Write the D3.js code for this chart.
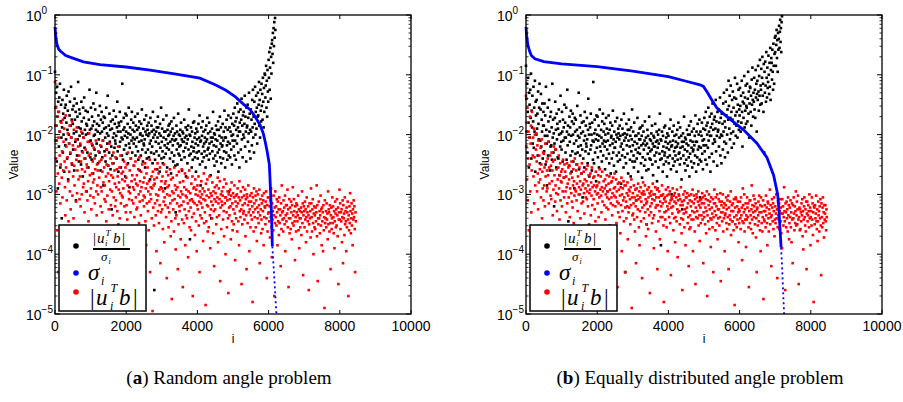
<!DOCTYPE html>
<html>
<head>
<meta charset="utf-8">
<script src="https://cdn.jsdelivr.net/npm/d3@7"></script>
<style>
body { margin: 0; background: #fff; }
</style>
</head>
<body>
<svg id="chart" width="903" height="402"></svg>
<script>
// tick labels / captions
const xTicks = [0, 2000, 4000, 6000, 8000, 10000];
const yDecades = [0, -1, -2, -3, -4, -5];
const captionTags = ["a", "b"];
const captionTexts = [" Random angle problem", " Equally distributed angle problem"];

const step = 10;

// (a) sigma_i curve [i, value]
const sigmaA = [[0,0.63],[20,0.45],[50,0.33],[100,0.27],[150,0.25],[300,0.21],[500,0.19],[800,0.165],[1260,0.148],[2000,0.135],[2670,0.12],[3400,0.103],[4070,0.088],[4500,0.068],[4800,0.055],[5060,0.043],[5300,0.032],[5480,0.026],[5620,0.02],[5760,0.0145],[5850,0.0105],[5900,0.0078],[5960,0.0052],[6020,0.0032],[6040,0.0018],[6070,0.0007],[6090,0.0003],[6105,0.000135],[6150,0.00005],[6190,0.00002],[6220,0.00001]];

// (b) sigma_i curve
const sigmaB = [[0,0.63],[20,0.45],[50,0.32],[100,0.25],[150,0.21],[250,0.185],[500,0.166],[1000,0.152],[2000,0.137],[3000,0.115],[4000,0.093],[4500,0.078],[4890,0.068],[4985,0.064],[5100,0.05],[5220,0.038],[5360,0.028],[5640,0.02],[6110,0.012],[6485,0.0072],[6770,0.0041],[6955,0.0021],[7070,0.001],[7110,0.0005],[7130,0.0003],[7140,0.00024],[7165,0.00013],[7190,0.000068],[7235,0.000016],[7250,0.00001]];

// (a) log10 |u_i^T b| / sigma_i, i = 0..6190
const blackALog = [
-0.95,-1.55,-2.10,-1.30,-1.85,-2.45,-1.20,-1.70,-2.90,-1.45,
-1.62,-2.20,-1.38,-1.95,-1.15,-2.55,-1.78,-1.50,-2.05,-3.40,
-1.88,-1.42,-2.30,-1.65,-2.00,-1.25,-2.62,-1.72,-1.55,-2.18,
-1.50,-2.08,-1.80,-1.35,-2.40,-1.92,-1.60,-2.75,-1.28,-2.00,
-2.15,-1.68,-1.45,-2.32,-1.85,-1.20,-2.05,-1.75,-2.50,-1.58,
-1.82,-2.25,-1.52,-1.98,-2.60,-1.40,-1.75,-2.12,-1.62,-3.10,
-1.95,-1.48,-2.35,-1.70,-2.08,-1.12,-1.88,-2.45,-1.58,-2.02,
-1.65,-2.18,-1.90,-2.50,-1.45,-1.78,-2.28,-1.98,-2.70,-1.55,
-2.05,-1.72,-1.38,-2.22,-1.92,-2.40,-1.60,-2.00,-1.82,-2.95,
-1.85,-2.30,-1.62,-1.98,-2.55,-1.75,-2.12,-1.25,-1.92,-2.38,
-2.10,-1.55,-1.90,-2.42,-1.70,-2.18,-1.85,-2.65,-1.48,-2.02,
-1.78,-2.25,-2.00,-1.58,-2.35,-1.92,-1.30,-2.15,-1.82,-4.20,
-1.95,-2.48,-1.68,-2.08,-1.85,-2.30,-1.52,-1.98,-2.60,-1.75,
-2.20,-1.62,-1.95,-2.38,-1.80,-2.10,-2.85,-1.70,-1.90,-2.28,
-1.72,-2.05,-2.45,-1.88,-1.55,-2.25,-1.98,-2.15,-1.35,-2.52,
-2.02,-1.85,-2.30,-1.65,-2.12,-1.92,-2.58,-1.78,-2.20,-3.25,
-1.90,-2.35,-1.75,-2.05,-2.48,-1.60,-1.98,-2.22,-1.82,-2.10,
-2.15,-1.70,-2.02,-2.40,-1.88,-1.45,-2.28,-1.95,-2.62,-1.80,
-1.85,-2.20,-1.62,-2.12,-1.95,-2.55,-1.78,-2.05,-2.35,-1.15,
-2.08,-2.42,-1.92,-1.72,-2.25,-1.88,-2.02,-2.70,-1.65,-2.18,
-1.95,-1.68,-2.32,-2.05,-1.82,-2.48,-1.98,-1.55,-2.15,-2.88,
-2.22,-1.88,-2.00,-2.40,-1.75,-2.10,-1.62,-2.30,-1.92,-2.05,
-1.80,-2.15,-2.52,-1.95,-2.08,-1.70,-2.35,-1.85,-2.20,-3.55,
-2.05,-1.92,-1.65,-2.28,-2.42,-1.88,-2.12,-1.78,-2.60,-2.00,
-1.98,-2.35,-1.82,-2.10,-1.58,-2.25,-2.02,-2.45,-1.90,-2.15,
-2.18,-1.75,-2.08,-2.55,-1.95,-2.30,-1.68,-2.00,-2.40,-1.85,
-1.92,-2.25,-2.02,-1.80,-2.38,-1.98,-2.15,-2.75,-1.72,-2.10,
-2.30,-1.85,-1.95,-2.20,-2.48,-1.62,-2.05,-1.92,-2.32,-4.60,
-2.00,-2.42,-1.78,-2.12,-1.95,-2.28,-1.88,-2.58,-2.05,-1.70,
-1.88,-2.15,-2.35,-1.98,-2.62,-1.82,-2.22,-2.02,-1.55,-2.40,
-2.12,-1.90,-2.28,-2.48,-1.75,-2.05,-2.38,-1.95,-2.18,-2.90,
-1.95,-2.32,-2.08,-1.68,-2.22,-2.55,-1.92,-2.15,-2.02,-1.85,
-2.25,-2.00,-1.82,-2.40,-2.12,-1.95,-2.65,-1.78,-2.30,-2.08,
-1.90,-2.18,-2.45,-2.02,-1.72,-2.35,-2.10,-1.98,-2.52,-3.30,
-2.08,-1.85,-2.25,-1.95,-2.50,-2.15,-1.65,-2.32,-2.00,-2.20,
-2.35,-2.02,-1.92,-2.18,-1.80,-2.42,-2.08,-2.60,-1.95,-2.12,
-1.98,-2.28,-2.12,-1.75,-2.38,-2.05,-2.22,-1.88,-2.70,-2.02,
-2.15,-1.92,-2.48,-2.08,-1.85,-2.25,-1.58,-2.35,-2.00,-3.75,
-2.02,-2.32,-1.88,-2.20,-2.55,-1.95,-2.12,-2.42,-1.80,-2.28,
-2.22,-1.78,-2.05,-2.38,-1.98,-2.15,-2.62,-1.90,-2.30,-2.08,
-1.95,-2.40,-2.18,-1.82,-2.28,-2.05,-1.68,-2.50,-2.12,-2.85,
-2.10,-1.88,-2.32,-2.02,-2.45,-1.78,-2.20,-1.95,-2.38,-2.15,
-2.28,-2.05,-1.92,-2.55,-2.12,-1.85,-2.35,-2.08,-1.72,-2.25,
-1.98,-2.22,-2.42,-1.80,-2.15,-2.32,-1.95,-2.68,-2.05,-3.40,
-2.12,-1.90,-2.28,-2.05,-1.62,-2.40,-2.18,-1.98,-2.52,-2.00,
-2.35,-2.08,-1.85,-2.20,-2.45,-1.92,-2.10,-2.30,-1.78,-2.62,
-1.92,-2.25,-2.02,-1.70,-2.38,-2.15,-1.88,-2.48,-2.05,-2.20,
-2.18,-1.82,-2.40,-2.10,-1.95,-2.28,-1.60,-2.05,-2.55,-1.88,
-2.05,-2.30,-1.75,-2.18,-2.42,-1.92,-2.12,-1.68,-2.35,-2.95,
-1.88,-2.15,-2.38,-1.95,-1.72,-2.25,-2.02,-2.50,-1.82,-2.10,
-2.00,-1.65,-2.20,-1.85,-2.35,-1.55,-2.10,-1.78,-2.42,-1.92,
-1.72,-2.15,-1.48,-2.02,-1.88,-2.30,-1.62,-1.95,-2.55,-1.80,
-1.95,-1.58,-2.25,-1.75,-1.40,-2.08,-1.85,-2.38,-1.68,-2.00,
-1.62,-2.05,-1.82,-1.35,-2.20,-1.70,-1.95,-2.45,-1.55,-1.88,
-1.85,-1.50,-2.12,-1.72,-1.98,-1.30,-2.28,-1.65,-1.92,-2.40,
-1.58,-1.95,-1.75,-2.18,-1.42,-1.88,-1.25,-2.05,-1.70,-2.30,
-1.45,-1.82,-1.20,-2.00,-1.62,-1.35,-1.90,-1.55,-2.15,-1.70,
-1.30,-1.68,-1.50,-1.12,-1.85,-1.42,-2.05,-1.25,-1.60,-1.78,
-1.15,-1.52,-1.32,-1.75,-1.05,-1.45,-1.88,-1.22,-1.62,-0.98,
-1.00,-1.38,-1.18,-0.85,-1.55,-1.10,-1.70,-0.92,-1.28,-1.45,
-0.75,-1.05,-0.62,-1.25,-0.88,-0.55,-1.40,-0.70,-0.98,-0.48,
-0.42,-0.65,-0.30,-0.80,-0.22,-0.52,-0.12,-0.38,-0.05,-0.25];

// (a) log10 |u_i^T b|, i = 0..8450
const redALog = [
-1.12,-1.85,-2.40,-1.55,-2.95,-2.10,-3.60,-1.70,-2.65,-4.30,
-2.05,-1.62,-2.82,-2.35,-1.95,-3.15,-2.50,-4.65,-1.80,-2.72,
-2.28,-3.05,-1.75,-2.60,-2.12,-3.70,-1.90,-2.45,-2.88,-3.35,
-1.68,-2.55,-2.20,-3.10,-4.05,-2.38,-1.98,-2.78,-3.45,-2.15,
-2.62,-1.85,-2.95,-2.30,-3.25,-2.05,-4.80,-2.48,-1.78,-3.02,
-2.18,-2.70,-3.40,-1.92,-2.52,-2.85,-3.85,-2.25,-2.08,-3.12,
-2.42,-1.88,-2.98,-2.60,-3.55,-2.20,-2.75,-4.40,-2.35,-3.08,
-2.70,-2.15,-3.20,-2.45,-1.95,-3.00,-2.58,-3.75,-2.30,-2.88,
-2.05,-2.82,-2.40,-3.30,-2.62,-4.15,-2.25,-2.95,-3.60,-2.50,
-2.55,-3.10,-2.12,-2.78,-3.45,-2.35,-1.98,-4.90,-2.68,-3.02,
-2.32,-2.90,-3.25,-2.15,-2.65,-3.80,-2.45,-2.80,-3.05,-2.22,
-2.75,-2.40,-3.15,-2.58,-4.25,-2.10,-2.95,-3.35,-2.50,-2.85,
-2.60,-3.00,-2.28,-3.55,-2.72,-2.45,-3.95,-2.18,-3.20,-2.88,
-2.42,-2.95,-3.30,-2.62,-2.10,-3.70,-2.80,-4.55,-2.55,-3.08,
-2.85,-2.35,-3.12,-2.70,-3.45,-2.50,-2.25,-3.02,-4.10,-2.65,
-2.52,-3.25,-2.78,-2.15,-3.60,-2.92,-2.40,-3.18,-2.68,-4.70,
-2.95,-2.48,-3.35,-2.72,-2.30,-3.05,-3.85,-2.60,-2.82,-3.20,
-2.38,-3.10,-2.88,-4.35,-2.58,-3.28,-2.70,-2.20,-3.50,-2.92,
-2.80,-2.55,-3.40,-2.98,-2.35,-3.15,-4.00,-2.65,-3.02,-2.75,
-3.05,-2.62,-2.90,-3.65,-2.45,-3.20,-2.78,-4.85,-2.55,-3.30,
-2.72,-3.18,-2.50,-3.42,-2.85,-2.30,-3.75,-2.95,-3.08,-4.20,
-2.60,-2.98,-3.30,-2.40,-3.55,-2.78,-3.10,-2.68,-4.45,-2.88,
-3.15,-2.52,-2.92,-3.38,-2.75,-3.90,-2.45,-3.05,-2.82,-3.25,
-2.68,-3.22,-2.85,-4.05,-2.58,-3.00,-3.48,-2.38,-3.12,-2.78,
-2.95,-3.35,-2.62,-2.88,-3.70,-2.50,-3.10,-4.60,-2.80,-3.02,
-3.20,-2.72,-3.05,-2.48,-3.45,-2.90,-3.85,-2.65,-3.15,-2.82,
-2.55,-3.28,-2.95,-3.60,-2.78,-3.12,-2.42,-4.30,-3.00,-2.88,
-3.08,-2.70,-3.40,-2.90,-4.95,-2.62,-3.22,-2.85,-3.52,-2.75,
-2.82,-3.15,-2.58,-3.35,-3.00,-3.95,-2.72,-3.10,-2.48,-3.28,
-3.02,-2.65,-3.48,-2.92,-3.18,-2.55,-4.15,-2.88,-3.30,-2.78,
-2.90,-3.25,-2.70,-3.58,-2.95,-3.12,-2.50,-3.80,-3.05,-2.82,
-3.18,-2.78,-3.38,-2.62,-4.40,-3.00,-2.88,-3.22,-2.68,-3.55,
-2.85,-3.30,-3.02,-2.58,-3.15,-3.70,-2.75,-3.45,-4.75,-2.95,
-3.10,-2.72,-3.25,-2.98,-3.62,-2.55,-3.08,-2.85,-3.40,-3.92,
-2.92,-3.35,-2.68,-3.15,-2.88,-4.25,-3.02,-3.50,-2.62,-3.20,
-3.28,-2.80,-3.05,-3.75,-2.95,-3.18,-2.58,-3.42,-3.00,-4.55,
-2.78,-3.12,-3.48,-2.88,-3.25,-2.65,-3.85,-3.02,-3.35,-2.92,
-3.05,-3.40,-2.72,-3.15,-4.05,-2.95,-3.28,-2.60,-3.55,-3.10,
-2.98,-3.22,-3.60,-2.82,-3.08,-3.38,-2.70,-4.70,-3.12,-2.90,
-3.32,-2.88,-3.15,-3.68,-2.75,-3.00,-3.45,-2.92,-3.95,-3.18,
-2.85,-3.25,-3.02,-2.70,-3.52,-3.12,-4.30,-2.95,-3.35,-3.05,
-3.15,-2.78,-3.40,-3.00,-3.22,-2.90,-3.78,-3.08,-2.65,-3.48,
-2.95,-3.30,-3.10,-4.85,-2.82,-3.45,-3.02,-3.18,-2.75,-3.62,
-3.20,-2.92,-3.55,-3.05,-2.70,-3.35,-3.90,-2.98,-3.25,-3.12,
-3.02,-3.40,-2.80,-3.18,-3.65,-2.95,-3.28,-4.20,-3.08,-2.88,
-3.25,-2.98,-3.12,-3.50,-2.85,-3.38,-3.05,-2.72,-3.80,-3.15,
-2.90,-3.35,-3.08,-2.78,-4.45,-3.22,-3.00,-3.58,-3.12,-2.95,
-3.18,-3.02,-3.42,-2.88,-3.28,-3.70,-2.75,-3.15,-3.05,-4.00,
-3.05,-2.82,-3.30,-3.55,-3.10,-2.95,-3.40,-4.65,-3.00,-3.22,
-3.35,-3.08,-2.92,-3.20,-3.75,-3.02,-2.80,-3.45,-3.15,-3.60,
-2.98,-3.25,-3.50,-3.05,-2.85,-3.32,-4.10,-3.12,-3.02,-3.40,
-3.20,-3.00,-3.62,-2.90,-3.15,-3.45,-3.05,-3.85,-2.78,-3.28,
-3.10,-3.38,-2.95,-3.25,-4.50,-3.05,-3.50,-3.18,-2.88,-3.32,
-3.28,-3.02,-3.42,-3.15,-2.92,-3.70,-3.08,-3.35,-4.25,-3.00,
-3.05,-3.48,-3.18,-2.85,-3.30,-3.12,-3.95,-3.25,-3.02,-3.55,
-3.35,-3.12,-2.98,-3.42,-3.20,-4.80,-3.05,-3.30,-3.62,-2.90,
-3.15,-3.38,-3.25,-3.02,-3.55,-3.10,-2.95,-3.78,-3.22,-3.40,
-3.00,-3.30,-3.48,-3.18,-2.92,-4.15,-3.35,-3.08,-3.25,-3.65,
-3.42,-3.15,-3.02,-3.58,-3.28,-3.10,-3.85,-2.98,-3.38,-3.20,
-3.22,-3.50,-3.12,-2.95,-3.40,-4.40,-3.18,-3.62,-3.05,-3.32,
-3.30,-3.05,-3.45,-3.20,-3.72,-3.10,-3.38,-2.90,-3.55,-4.05,
-3.15,-3.42,-3.28,-3.60,-3.02,-3.35,-4.70,-3.22,-3.48,-2.95,
-3.38,-3.20,-3.52,-3.08,-3.30,-3.85,-3.12,-3.45,-3.25,-3.68,
-3.05,-3.48,-3.25,-3.35,-4.20,-3.15,-3.58,-2.85,-3.30,-3.42,
-3.28,-3.62,-3.10,-3.40,-3.22,-3.50,-3.02,-3.95,-3.35,-3.18,
-3.45,-3.18,-3.32,-2.92,-3.55,-3.25,-4.55,-3.40,-3.08,-3.65,
-3.22,-3.40,-3.58,-3.12,-3.30,-3.75,-3.18,-3.48,-2.88,-3.35,
-3.52,-3.08,-3.28,-3.45,-4.10,-3.20,-3.38,-3.62,-3.15,-3.30,
-3.18,-3.45,-3.35,-3.02,-3.60,-3.25,-3.90,-3.40,-3.28,-3.55,
-3.40,-3.22,-3.68,-3.30,-2.95,-3.48,-3.15,-4.35,-3.35,-3.20,
-3.28,-3.55,-3.12,-3.42,-3.25,-3.80,-3.38,-3.05,-3.62,-3.30,
-3.45,-3.20,-3.35,-4.60,-3.50,-3.15,-3.40,-3.28,-3.72,-2.90,
-3.15,-3.38,-3.62,-3.25,-3.08,-3.48,-4.00,-3.32,-3.20,-3.55,
-3.35,-3.58,-3.22,-3.45,-3.30,-2.85,-3.70,-3.18,-4.45,-3.40,
-3.50,-3.12,-3.40,-3.28,-3.65,-3.35,-3.02,-3.52,-3.25,-3.85,
-3.22,-3.45,-3.30,-3.95,-3.18,-3.60,-3.38,-4.90,-3.10,-3.48,
-3.40,-3.28,-3.55,-3.15,-3.42,-3.32,-3.75,-2.95,-3.50,-3.25,
-3.30,-3.62,-3.18,-3.48,-4.25,-3.35,-3.22,-3.58,-3.40,-3.05,
-3.48,-3.20,-3.38,-3.65,-3.28,-3.90,-3.45,-3.12,-3.32,-3.55,
-3.25,-3.52,-3.08,-3.35,-3.70,-3.22,-4.50,-3.42,-3.30,-2.92,
-3.42,-3.15,-3.58,-3.30,-3.45,-3.25,-3.80,-3.38,-3.10,-4.15,
-3.18,-3.40,-3.32,-3.68,-3.05,-3.50,-3.28,-3.45,-3.95,-3.22,
-3.55,-3.30,-3.12,-3.42,-4.70,-3.35,-3.60,-3.20,-3.48,-2.98,
-3.28,-3.65,-3.40,-3.15,-3.52,-3.32,-3.85,-3.25,-3.42,-3.10,
-3.38,-3.20,-3.58,-4.30,-3.30,-3.45];

// (b) log10 |u_i^T b| / sigma_i, i = 0..7190
const blackBLog = [
-0.85,-1.40,-1.95,-1.15,-2.30,-1.62,-1.05,-1.80,-2.55,-1.30,
-1.50,-2.05,-1.25,-1.72,-0.98,-2.40,-1.60,-1.88,-1.35,-2.15,
-1.78,-1.20,-2.22,-1.55,-1.95,-1.10,-2.62,-1.45,-1.68,-2.00,
-1.42,-1.90,-1.65,-2.35,-1.28,-1.82,-2.08,-1.55,-1.15,-2.48,
-2.10,-1.58,-1.32,-2.20,-1.75,-1.95,-1.48,-2.40,-1.85,-1.62,
-1.85,-2.28,-1.48,-2.02,-1.68,-2.50,-1.20,-1.92,-2.15,-2.85,
-2.02,-1.55,-2.35,-1.78,-2.12,-1.42,-1.95,-2.60,-1.70,-2.20,
-1.62,-2.18,-1.88,-2.42,-1.15,-2.05,-1.75,-2.30,-1.98,-3.20,
-2.15,-1.72,-1.45,-2.25,-1.92,-2.55,-1.65,-2.08,-1.82,-2.38,
-1.90,-2.40,-1.58,-2.00,-2.68,-1.78,-2.20,-1.35,-1.98,-2.12,
-2.25,-1.62,-1.95,-2.45,-1.75,-2.10,-1.88,-2.72,-1.50,-2.05,
-1.80,-2.30,-2.05,-1.55,-2.42,-1.95,-1.25,-2.18,-1.85,-3.45,
-2.00,-2.52,-1.70,-2.12,-1.88,-2.35,-1.60,-2.02,-2.62,-1.78,
-2.28,-1.65,-2.00,-2.45,-1.82,-2.15,-2.90,-1.72,-1.95,-2.32,
-1.75,-2.10,-2.50,-1.92,-1.52,-2.30,-2.02,-2.20,-1.30,-2.58,
-2.05,-1.88,-2.35,-1.68,-2.18,-1.98,-2.65,-1.80,-2.25,-3.05,
-1.95,-2.40,-1.78,-2.10,-2.55,-1.62,-2.02,-2.28,-1.85,-2.15,
-2.20,-1.72,-2.08,-2.48,-1.92,-1.40,-2.32,-2.00,-2.70,-1.82,
-1.88,-2.25,-1.65,-2.18,-2.00,-2.60,-1.80,-2.10,-2.42,-1.12,
-2.12,-2.48,-1.98,-1.75,-2.30,-1.92,-2.08,-2.78,-1.68,-2.22,
-2.00,-1.70,-2.38,-2.10,-1.85,-2.55,-2.02,-1.58,-2.20,-3.60,
-2.28,-1.92,-2.05,-2.45,-1.78,-2.15,-1.65,-2.35,-1.95,-2.10,
-1.82,-2.20,-2.58,-2.00,-2.12,-1.72,-2.40,-1.90,-2.25,-2.95,
-2.10,-1.98,-1.68,-2.32,-2.48,-1.92,-2.18,-1.80,-2.65,-2.05,
-2.02,-2.40,-1.85,-2.15,-1.60,-2.30,-2.08,-2.52,-1.95,-2.22,
-2.22,-1.78,-2.12,-2.62,-2.00,-2.35,-1.72,-2.05,-2.45,-1.90,
-1.98,-2.30,-2.08,-1.85,-2.42,-2.02,-2.20,-2.82,-1.75,-2.15,
-2.35,-1.90,-2.00,-2.25,-2.55,-1.65,-2.10,-1.98,-2.38,-4.30,
-2.05,-2.48,-1.82,-2.18,-2.00,-2.32,-1.92,-2.65,-2.10,-1.75,
-1.92,-2.20,-2.42,-2.02,-2.70,-1.88,-2.28,-2.08,-1.58,-2.45,
-2.18,-1.95,-2.35,-2.55,-1.80,-2.12,-2.45,-2.02,-2.25,-3.10,
-2.02,-2.40,-2.15,-1.72,-2.30,-2.62,-1.98,-2.22,-2.08,-1.90,
-2.32,-2.08,-1.88,-2.48,-2.18,-2.02,-2.72,-1.85,-2.38,-2.15,
-1.95,-2.25,-2.52,-2.10,-1.78,-2.42,-2.18,-2.05,-2.60,-3.50,
-2.15,-1.92,-2.32,-2.02,-2.58,-2.22,-1.70,-2.40,-2.08,-2.28,
-2.42,-2.10,-1.98,-2.25,-1.85,-2.50,-2.15,-2.68,-2.02,-2.20,
-2.05,-2.35,-2.20,-1.82,-2.45,-2.12,-2.30,-1.95,-2.78,-2.10,
-2.22,-2.00,-2.55,-2.15,-1.92,-2.32,-1.65,-2.42,-2.08,-3.85,
-2.10,-2.40,-1.95,-2.28,-2.62,-2.02,-2.20,-2.50,-1.88,-2.35,
-2.30,-1.85,-2.12,-2.45,-2.05,-2.22,-2.70,-1.98,-2.38,-2.15,
-2.02,-2.48,-2.25,-1.90,-2.35,-2.12,-1.75,-2.58,-2.20,-3.00,
-2.18,-1.95,-2.40,-2.10,-2.52,-1.85,-2.28,-2.02,-2.45,-2.22,
-2.35,-2.12,-2.00,-2.62,-2.20,-1.92,-2.42,-2.15,-1.80,-2.32,
-2.05,-2.30,-2.50,-1.88,-2.22,-2.40,-2.02,-2.75,-2.12,-3.25,
-2.20,-1.98,-2.35,-2.12,-1.70,-2.48,-2.25,-2.05,-2.60,-2.08,
-2.42,-2.15,-1.92,-2.28,-2.52,-2.00,-2.18,-2.38,-1.85,-2.70,
-2.00,-2.32,-2.10,-1.78,-2.45,-2.22,-1.95,-2.55,-2.12,-2.28,
-2.25,-1.90,-2.48,-2.18,-2.02,-2.35,-1.68,-2.12,-2.62,-1.95,
-2.12,-2.38,-1.82,-2.25,-2.50,-2.00,-2.20,-1.75,-2.42,-3.05,
-1.95,-2.22,-2.45,-2.02,-1.80,-2.32,-2.10,-2.58,-1.90,-2.18,
-2.08,-1.72,-2.28,-1.92,-2.42,-1.62,-2.18,-1.85,-2.50,-2.00,
-1.80,-2.22,-1.55,-2.10,-1.95,-2.38,-1.70,-2.02,-2.62,-1.88,
-2.02,-1.65,-2.32,-1.82,-1.48,-2.15,-1.92,-2.45,-1.75,-2.08,
-1.70,-2.12,-1.90,-1.42,-2.28,-1.78,-2.02,-2.52,-1.62,-1.95,
-1.92,-1.58,-2.20,-1.80,-2.05,-1.38,-2.35,-1.72,-2.00,-2.48,
-1.65,-2.02,-1.82,-2.25,-1.48,-1.95,-1.30,-2.12,-1.78,-2.38,
-1.88,-1.45,-2.15,-1.68,-1.25,-2.00,-1.58,-2.30,-1.75,-1.10,
-1.52,-1.90,-1.35,-2.08,-1.72,-1.18,-1.98,-1.62,-2.22,-1.42,
-1.75,-1.28,-1.95,-1.55,-2.15,-1.38,-1.82,-1.05,-1.68,-2.02,
-1.40,-1.85,-1.62,-1.15,-2.05,-1.50,-1.78,-1.25,-1.92,-1.58,
-1.68,-1.22,-1.52,-1.95,-1.35,-1.80,-1.10,-1.62,-2.20,-1.45,
-1.30,-1.72,-1.48,-1.02,-1.88,-1.38,-1.60,-1.18,-1.82,-1.52,
-1.55,-1.15,-1.78,-1.40,-0.95,-1.65,-1.28,-2.05,-1.48,-1.20,
-1.22,-1.62,-1.35,-1.85,-1.08,-1.50,-0.88,-1.42,-1.70,-1.30,
-1.45,-1.05,-1.58,-1.25,-1.72,-0.92,-1.38,-1.15,-1.95,-1.32,
-1.10,-1.42,-0.85,-1.28,-1.60,-1.02,-1.35,-0.75,-1.50,-1.18,
-1.25,-0.90,-1.48,-1.05,-0.70,-1.35,-1.15,-1.62,-0.82,-2.30,
-0.95,-1.30,-0.78,-1.18,-1.45,-0.62,-1.05,-1.38,-0.88,-1.22,
-1.12,-0.68,-1.00,-1.32,-0.80,-1.20,-0.55,-1.42,-0.92,-0.72,
-0.80,-1.08,-0.58,-0.95,-1.25,-0.48,-0.85,-1.15,-0.65,-0.38,
-0.62,-0.35,-0.85,-0.50,-0.25,-0.72,-0.42,-0.95,-0.30,-0.58,
-0.40,-0.18,-0.55,-0.28,-0.08,-0.45,-0.22,-0.62,-0.12,-0.02];

// (b) log10 |u_i^T b|, i = 0..8450
const redBLog = [
-1.35,-2.20,-1.80,-2.75,-1.55,-3.10,-2.40,-1.95,-3.60,-2.05,
-2.50,-1.70,-2.95,-2.15,-1.85,-3.30,-2.60,-1.62,-4.20,-2.35,
-2.05,-2.70,-1.90,-3.15,-2.38,-2.00,-2.85,-3.75,-2.25,-1.98,
-2.45,-2.95,-2.18,-2.65,-3.25,-2.10,-2.80,-2.35,-4.55,-2.58,
-2.75,-2.22,-3.05,-2.50,-2.08,-3.40,-2.62,-2.90,-2.30,-3.10,
-2.32,-2.85,-2.55,-3.20,-2.15,-2.70,-3.85,-2.45,-2.95,-2.60,
-2.90,-2.40,-2.68,-2.12,-3.15,-2.55,-2.82,-4.40,-2.35,-3.02,
-2.52,-3.08,-2.30,-2.78,-2.60,-3.35,-2.45,-2.92,-2.20,-3.70,
-2.68,-2.42,-3.12,-2.85,-2.25,-2.98,-2.58,-3.28,-4.85,-2.75,
-3.00,-2.55,-2.35,-2.90,-3.42,-2.68,-2.48,-3.10,-2.78,-2.62,
-2.80,-3.20,-2.58,-2.95,-2.42,-3.55,-2.72,-3.05,-2.50,-4.05,
-2.62,-2.95,-3.30,-2.70,-2.88,-2.48,-3.15,-2.82,-3.90,-2.55,
-3.05,-2.75,-2.52,-3.38,-2.90,-2.65,-4.60,-2.98,-2.45,-3.12,
-2.72,-3.22,-2.85,-2.58,-3.48,-2.78,-3.02,-2.40,-2.92,-3.65,
-2.95,-2.60,-3.10,-2.82,-2.50,-3.28,-2.70,-4.25,-3.00,-2.88,
-2.55,-3.00,-2.78,-3.40,-2.92,-2.65,-3.15,-2.48,-3.80,-2.85,
-3.12,-2.82,-2.62,-2.98,-3.32,-2.75,-4.75,-2.90,-3.05,-2.58,
-2.78,-3.08,-2.95,-2.52,-3.20,-2.85,-2.68,-3.50,-2.98,-4.10,
-2.92,-2.65,-3.35,-2.80,-3.02,-2.55,-3.18,-2.88,-3.70,-2.72,
-3.08,-2.85,-2.70,-3.25,-2.95,-3.45,-2.62,-4.45,-2.88,-3.00,
-2.85,-3.15,-2.98,-2.68,-3.38,-2.80,-3.05,-2.58,-3.95,-2.92,
-2.70,-3.02,-3.30,-2.88,-2.62,-3.12,-2.95,-3.58,-2.78,-4.85,
-3.18,-2.90,-2.75,-3.42,-3.00,-2.85,-3.22,-2.68,-3.05,-3.75,
-2.95,-3.25,-2.82,-3.08,-2.70,-3.52,-2.92,-4.20,-3.15,-2.80,
-3.05,-2.78,-3.35,-2.98,-3.18,-2.72,-3.85,-2.90,-3.02,-2.65,
-2.88,-3.20,-3.05,-2.75,-3.48,-2.95,-3.12,-4.55,-2.82,-3.30,
-3.15,-2.92,-2.80,-3.38,-3.02,-3.65,-2.88,-3.18,-2.72,-3.95,
-3.00,-3.28,-2.90,-3.10,-2.78,-3.45,-3.05,-2.85,-4.30,-3.22,
-2.85,-3.12,-3.40,-2.98,-3.20,-2.80,-3.75,-3.02,-3.30,-2.92,
-3.22,-2.95,-3.08,-3.50,-2.88,-3.18,-2.75,-4.90,-3.05,-3.35,
-2.98,-3.32,-3.15,-2.85,-3.42,-3.05,-3.62,-2.92,-3.20,-4.15,
-3.10,-2.90,-3.38,-3.02,-3.25,-2.82,-3.08,-3.55,-2.95,-3.85,
-3.28,-3.05,-2.88,-3.45,-3.12,-2.98,-4.40,-3.22,-3.00,-2.80,
-2.95,-3.40,-3.18,-3.00,-2.85,-3.30,-3.08,-3.70,-3.15,-3.50,
-3.12,-2.92,-3.25,-3.58,-3.05,-2.88,-3.35,-2.98,-4.65,-3.20,
-3.02,-3.30,-2.95,-3.15,-3.48,-3.08,-2.82,-3.40,-3.00,-3.90,
-3.35,-3.10,-3.00,-2.88,-3.22,-3.62,-3.05,-3.18,-2.92,-4.25,
-2.90,-3.18,-3.45,-3.05,-2.95,-3.28,-3.75,-3.12,-3.38,-3.02,
-3.20,-3.02,-2.85,-3.38,-3.15,-3.00,-3.52,-4.80,-3.08,-3.30,
-3.05,-3.42,-3.12,-2.92,-3.28,-3.55,-3.02,-3.20,-3.95,-2.88,
-3.25,-3.00,-3.38,-3.15,-2.95,-3.48,-3.10,-4.35,-3.22,-3.05,
-3.08,-3.32,-2.90,-3.20,-3.60,-3.02,-3.40,-3.12,-2.98,-3.80,
-3.38,-3.15,-3.05,-3.45,-2.92,-3.25,-4.05,-3.10,-3.30,-3.00,
-3.02,-3.28,-3.50,-3.08,-3.18,-2.88,-3.40,-3.65,-3.12,-4.60,
-3.18,-3.42,-3.00,-3.32,-3.10,-3.55,-2.95,-3.25,-3.85,-3.05,
-3.30,-3.05,-3.22,-2.98,-3.48,-3.15,-3.38,-4.20,-3.02,-3.58,
-3.10,-3.35,-3.55,-3.20,-3.00,-3.42,-3.12,-3.28,-2.92,-3.95,
-3.42,-3.15,-3.02,-3.30,-3.62,-3.08,-4.50,-3.22,-3.38,-3.00,
-3.05,-3.28,-3.40,-3.12,-2.95,-3.52,-3.18,-3.35,-3.78,-3.10,
-3.22,-3.48,-3.08,-3.35,-3.15,-2.98,-3.42,-3.05,-4.15,-3.30,
-3.15,-3.38,-3.02,-3.50,-3.22,-3.08,-3.65,-3.28,-2.95,-4.70,
-3.35,-3.10,-3.45,-3.18,-3.00,-3.58,-3.25,-3.12,-3.40,-3.88,
-3.05,-3.42,-3.22,-3.32,-3.55,-3.08,-4.30,-3.38,-3.15,-2.92,
-3.28,-3.15,-3.60,-3.05,-3.35,-3.20,-3.48,-3.00,-3.75,-3.25,
-3.40,-3.08,-3.25,-3.52,-3.12,-3.38,-2.98,-4.45,-3.30,-3.18,
-3.12,-3.45,-3.30,-3.00,-3.62,-3.22,-3.40,-3.15,-3.95,-3.35,
-3.32,-3.18,-3.05,-3.48,-3.25,-3.58,-3.10,-3.38,-3.02,-4.25,
-3.22,-3.50,-3.35,-3.12,-3.42,-2.95,-3.68,-3.28,-3.18,-3.45,
-3.45,-3.15,-3.28,-3.60,-3.08,-3.38,-4.85,-3.22,-3.50,-3.05,
-3.08,-3.35,-3.55,-3.20,-3.42,-3.12,-3.30,-3.80,-3.25,-3.48,
-3.28,-3.12,-3.40,-3.58,-3.05,-3.35,-3.22,-4.10,-3.45,-2.90,
-3.18,-3.48,-3.30,-3.00,-3.62,-3.25,-3.42,-3.15,-3.88,-3.35,
-3.42,-3.05,-3.22,-3.38,-3.15,-3.55,-4.55,-3.28,-3.10,-3.48,
-3.10,-3.35,-3.58,-3.25,-2.85,-3.42,-3.18,-3.65,-3.30,-3.02,
-3.38,-3.20,-3.08,-3.50,-3.28,-3.15,-3.72,-3.40,-4.30,-3.25,
-3.22,-3.52,-3.35,-3.12,-3.45,-3.02,-3.30,-3.60,-3.18,-3.95,
-3.05,-3.30,-3.48,-3.20,-3.62,-3.38,-3.10,-4.75,-3.28,-3.42,
-3.45,-3.18,-3.28,-3.55,-3.02,-3.35,-3.22,-3.48,-3.85,-3.12,
-3.15,-3.40,-3.62,-3.25,-3.32,-2.92,-3.50,-3.18,-3.38,-4.20,
-3.35,-3.08,-3.22,-3.45,-3.15,-3.58,-3.28,-3.05,-3.70,-3.42,
-3.20,-3.48,-3.32,-3.00,-3.40,-3.25,-4.40,-3.55,-3.12,-3.35,
-3.42,-3.15,-3.58,-3.28,-3.08,-3.45,-3.22,-3.65,-3.32,-3.90,
-3.08,-3.32,-3.20,-3.52,-3.38,-2.88,-3.28,-3.45,-4.60,-3.15,
-3.30,-3.55,-3.12,-3.40,-3.25,-3.62,-3.05,-3.35,-3.18,-3.75,
-3.48,-3.22,-3.38,-3.10,-3.55,-3.30,-3.80,-3.15,-3.42,-4.15,
-3.18,-3.40,-3.05,-3.32,-3.60,-3.20,-3.48,-3.28,-2.95,-3.52,
-3.35,-3.12,-3.50,-3.25,-3.02,-3.42,-4.50,-3.38,-3.22,-3.60,
-3.25,-3.58,-3.30,-3.45,-3.15,-3.35,-3.08,-3.70,-3.28,-3.92,
-3.42,-3.20,-3.05,-3.38,-3.52,-3.25,-3.62,-3.12,-4.25,-3.32,
-3.12,-3.45,-3.35,-3.18,-3.28,-3.55,-3.00,-3.40,-3.22,-3.85,
-3.38,-3.28,-3.52,-3.05,-3.42,-3.15,-3.68,-3.30,-4.80,-3.20,
-3.22,-3.50,-3.18,-3.40,-3.32,-3.02,-3.45,-3.58,-3.25,-3.78,
-3.45,-3.12,-3.35,-3.28,-3.62,-3.20,-3.40,-3.08,-3.52,-4.35,
-3.15,-3.38,-3.55,-3.22,-3.05,-3.48,-3.30,-3.72,-3.18,-3.42,
-3.32,-3.18,-3.45,-3.60,-3.25,-3.38];

const colors = { ratio: "#000000", sigma: "#0000ff", ub: "#ff0000" };
const sans = '"Liberation Sans", Arial, sans-serif';
const serif = '"Liberation Serif", "DejaVu Serif", serif';

const svg = d3.select("#chart");
const plotTop = 15, plotH = 299, plotW = 356;
const dot = 2.6;

function toPoints(logs) {
    return logs.map((v, k) => [k * step, Math.pow(10, v)]);
}

function drawPanel(x0, black, red, sigma, k) {
    const g = svg.append("g").attr("transform", "translate(" + x0 + "," + plotTop + ")");

    const x = d3.scaleLinear().domain([0, 10000]).range([0, plotW]);
    const y = d3.scaleLog().domain([1e-5, 1]).range([plotH, 0]);

    // scatter clouds, black first then red over it
    [[black, colors.ratio], [red, colors.ub]].forEach(s => {
        g.append("g").selectAll("rect")
            .data(s[0])
            .join("rect")
            .attr("x", d => x(d[0]) - dot / 2)
            .attr("y", d => y(d[1]) - dot / 2)
            .attr("width", dot).attr("height", dot)
            .attr("fill", s[1]);
    });

    // sigma_i: solid line, dotted where it plunges
    const line = d3.line().x(d => x(d[0])).y(d => y(d[1]));
    const cut = sigma.findIndex(d => d[1] <= 1.4e-4);
    g.append("path")
        .datum(sigma.slice(0, cut + 1))
        .attr("d", line)
        .attr("fill", "none")
        .attr("stroke", colors.sigma)
        .attr("stroke-width", 2.8);
    g.append("path")
        .datum(sigma.slice(cut))
        .attr("d", line)
        .attr("fill", "none")
        .attr("stroke", colors.sigma)
        .attr("stroke-width", 1.8)
        .attr("stroke-dasharray", "2,3");

    // frame
    g.append("rect")
        .attr("width", plotW).attr("height", plotH)
        .attr("fill", "none").attr("stroke", "#000").attr("stroke-width", 1.3);

    // x ticks, inward on top and bottom
    xTicks.forEach(t => {
        g.append("line").attr("x1", x(t)).attr("x2", x(t)).attr("y1", plotH).attr("y2", plotH - 4)
            .attr("stroke", "#000");
        g.append("line").attr("x1", x(t)).attr("x2", x(t)).attr("y1", 0).attr("y2", 4)
            .attr("stroke", "#000");
        g.append("text").attr("x", x(t)).attr("y", plotH + 17)
            .attr("text-anchor", "middle").attr("font-size", 14)
            .style("font-family", sans).text(t);
    });

    // y ticks: decades + minor, on both sides
    yDecades.forEach(e => {
        const v = Math.pow(10, e);
        [0, plotW].forEach(xe => {
            const dir = xe === 0 ? 1 : -1;
            g.append("line").attr("x1", xe).attr("x2", xe + dir * 5).attr("y1", y(v)).attr("y2", y(v))
                .attr("stroke", "#000");
            if (e > -5) {
                for (let m = 2; m <= 9; m++) {
                    const yy = y(m * Math.pow(10, e - 1));
                    g.append("line").attr("x1", xe).attr("x2", xe + dir * 2.5).attr("y1", yy).attr("y2", yy)
                        .attr("stroke", "#000").attr("stroke-width", 0.8);
                }
            }
        });
        const lab = g.append("text").attr("x", -29).attr("y", y(v) + 6)
            .attr("font-size", 14).style("font-family", sans);
        lab.append("tspan").text("10");
        lab.append("tspan").attr("dy", -7).attr("font-size", 10).text(e === 0 ? "0" : "\u2212" + (-e));
    });

    // axis titles
    g.append("text").attr("x", plotW / 2).attr("y", plotH + 29).attr("fill", "#000")
        .attr("text-anchor", "middle").attr("font-size", 12).style("font-family", sans).text("i");
    g.append("text").attr("transform", "translate(-37," + (plotH / 2) + ") rotate(-90)")
        .attr("text-anchor", "middle").attr("font-size", 12).style("font-family", sans).text("Value");

    // legend
    const lg = svg.append("g").attr("transform", "translate(" + x0 + ",0)");
    lg.append("rect").attr("x", 4).attr("y", 225).attr("width", 87).attr("height", 86)
        .attr("fill", "#fff").attr("stroke", "#000").attr("stroke-width", 1.5);
    [[colors.ratio, 246], [colors.sigma, 273], [colors.ub, 292]].forEach(c => {
        lg.append("circle").attr("cx", 21).attr("cy", c[1]).attr("r", 2.8).attr("fill", c[0]);
    });
    // each expression: [text, x, y, size, italic]
    const exprs = [
        [["|", 38, 243, 15, 0], ["u", 42, 243, 15, 1], ["T", 50.5, 236, 9, 1], ["i", 50, 246, 9, 1],
         ["b", 58, 243, 15, 1], ["|", 67, 243, 15, 0], ["\u03c3", 46, 261, 13, 1], ["i", 53.5, 264, 8, 1]],
        [["\u03c3", 33, 280, 23, 1], ["i", 46, 285, 12, 1]],
        [["|", 35, 305, 23, 0], ["u", 41, 305, 23, 1], ["T", 55.5, 292, 12, 1], ["i", 55, 310, 12, 1],
         ["b", 64, 305, 23, 1], ["|", 78, 305, 23, 0]]
    ];
    exprs.forEach(ex => {
        const t = lg.append("text").style("font-family", serif);
        ex.forEach(p => {
            t.append("tspan").attr("x", p[1]).attr("y", p[2]).attr("font-size", p[3])
                .style("font-style", p[4] ? "italic" : "normal").text(p[0]);
        });
    });
    lg.append("line").attr("x1", 38).attr("x2", 75).attr("y1", 249).attr("y2", 249)
        .attr("stroke", "#000").attr("stroke-width", 2.2);

    // caption
    const cap = svg.append("text").attr("x", x0 + plotW / 2 - 4).attr("y", 384)
        .attr("text-anchor", "middle").attr("font-size", 19).style("font-family", serif);
    cap.append("tspan").text("(");
    cap.append("tspan").attr("font-weight", "bold").text(captionTags[k]);
    cap.append("tspan").text(")" + captionTexts[k]);
}

drawPanel(55, toPoints(blackALog), toPoints(redALog), sigmaA, 0);
drawPanel(526, toPoints(blackBLog), toPoints(redBLog), sigmaB, 1);
</script>
</body>
</html>
